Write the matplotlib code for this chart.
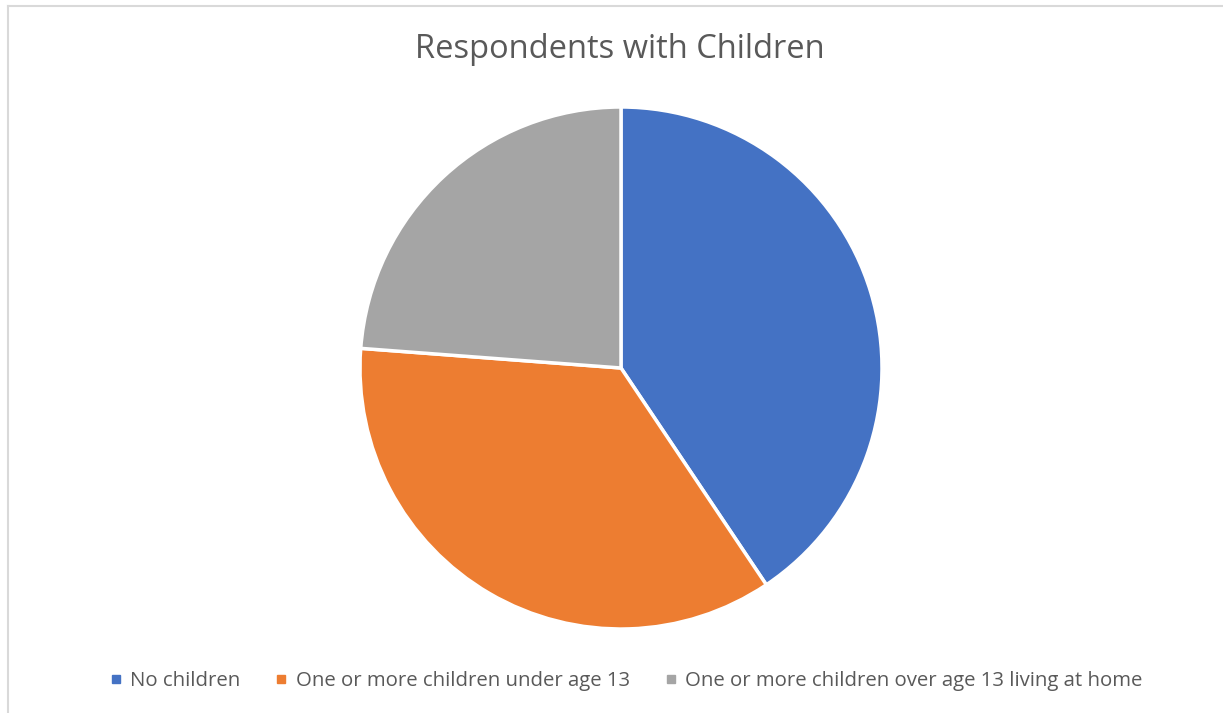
import matplotlib
matplotlib.use('Agg')
from matplotlib import pyplot as plt
from matplotlib.lines import Line2D

# slices, clockwise from 12 o'clock
labels = ['No children', 'One or more children under age 13', 'One or more children over age 13 living at home']
shares = [40.6, 35.6, 23.8]
colors = ['#4472C4', '#ED7D31', '#A5A5A5']
title = 'Respondents with Children'

W, H = 1223, 713
fig = plt.figure(figsize=(W / 100, H / 100), dpi=100)
fig.patch.set_facecolor('white')

# chart border (only top and left visible in the crop)
fig.add_artist(Line2D([8 / W, 1], [1 - 6 / H, 1 - 6 / H], color='#d9d9d9', lw=1.5))
fig.add_artist(Line2D([8 / W, 8 / W], [0, 1 - 6 / H], color='#d9d9d9', lw=1.5))

cx, cy, r = 621, 368, 261
ax = fig.add_axes([(cx - r) / W, (H - cy - r) / H, 2 * r / W, 2 * r / H])
ax.pie(shares, colors=colors, startangle=90, counterclock=False,
       wedgeprops={'edgecolor': 'white', 'linewidth': 2.5})
ax.set_aspect('equal')
ax.set_xlim(-1, 1)
ax.set_ylim(-1, 1)
ax.axis('off')

fig.text(620 / W, 1 - 50 / H, title, ha='center', va='center',
         fontsize=23.5, color='#595959', family='Open Sans')

handles = [Line2D([0], [0], marker='s', linestyle='', markersize=6,
                  markerfacecolor=c, markeredgecolor=c) for c in colors]
leg = fig.legend(handles, labels, loc='center', bbox_to_anchor=(625 / W, 1 - 681 / H),
                 ncol=3, frameon=False, handletextpad=0.3, columnspacing=1.6,
                 handlelength=0.8, prop={'family': 'Open Sans', 'size': 14.7})
for t in leg.get_texts():
    t.set_color('#595959')

plt.savefig('out.png', dpi=100, facecolor='white')
